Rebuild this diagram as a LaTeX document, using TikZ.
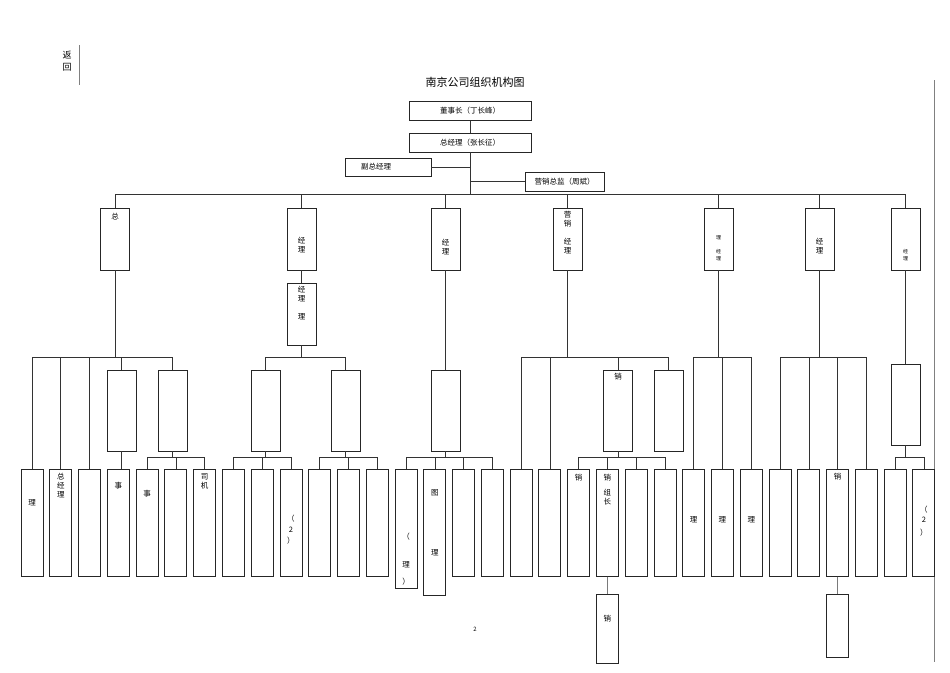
\documentclass[tikz,border=0pt]{standalone}
\usepackage{fontspec}
\setmainfont{Noto Sans CJK SC}
\usetikzlibrary{positioning}
\tikzset{
    deptbox/.style={draw=black!85, line width=0.8pt, fill=white, inner sep=0pt,
        outer sep=0pt, minimum width=29pt, minimum height=62pt},
    chiefbox/.style={deptbox, minimum width=122pt, minimum height=19pt,
        font=\fontsize{7.5}{9}\selectfont},
    groupbox/.style={deptbox, minimum height=81pt},
    leafbox/.style={deptbox, minimum width=22pt, minimum height=107pt},
    txt/.style={inner sep=0pt, align=center, font=\fontsize{7.5}{9}\selectfont},
    smalltxt/.style={txt, font=\fontsize{5}{7}\selectfont},
    link/.style={draw=black!80, line width=0.6pt}
}

\begin{document}
\begin{tikzpicture}[x=1pt, y=-1pt]
    \useasboundingbox (0,0) rectangle (950,672);
    % page frame
    \node[txt, font=\fontsize{9}{12}\selectfont] (back) at (67,61) {返\\回};
    \draw[black!50, line width=0.5pt] (79,45) -- (79,85);
    \draw[black!50, line width=0.5pt] (934,80) -- (934,662);
    \node[txt, font=\fontsize{11}{13}\selectfont] (title) at (475,82) {南京公司组织机构图};
    \node[txt, font=\fontsize{6}{7}\selectfont] (page) at (475,629) {2};

    % head office
    \node[chiefbox] (ceo) at (470,111) {董事长（丁长峰）};
    \node[chiefbox] (gm) at (470,142.5) {总经理（张长征）};
    \node[chiefbox, minimum width=86pt, minimum height=18pt] (vgm) at (388,167) {};
    \node[txt, right=16pt of vgm.west] (vgmtext) {副总经理};
    \node[chiefbox, minimum width=79pt, minimum height=19pt] (mkt) at (564.5,181.5) {营销总监（周斌）};
    \draw[link] (ceo) -- (gm);
    \draw[link] (vgm.east) -- (vgm.east -| gm.south);
    \draw[link] (mkt.west) -- (mkt.west -| gm.south);

    % departments
    \foreach \k/\x in {1/115, 2/301.5, 3/445.5, 4/567.5, 5/718.5, 6/819.5, 7/905.5}
        \node[deptbox] (L\k) at (\x,239) {};
    \node[deptbox] (L2b) at (301.5,314) {};
    \foreach \k in {1,...,7}
        \draw[link] (gm.south) -- ++(0,42) -| (L\k.north);
    \draw[link] (L2) -- (L2b);

    \node[txt, below=5pt of L1.north] {总};
    \node[txt, below=29pt of L2.north] {经\\理};
    \node[txt, below=3pt of L2b.north] {经\\理\\[9pt]理};
    \node[txt, below=31pt of L3.north] {经\\理};
    \node[txt, below=3pt of L4.north] {营\\销\\[9pt]经\\理};
    \node[smalltxt, below=27pt of L5.north] {理\\[7pt]经\\理};
    \node[txt, below=30pt of L6.north] {经\\理};
    \node[smalltxt, below=41pt of L7.north] {经\\理};

    % groups
    \foreach \g/\x in {m1a/121.5, m1b/172.5, m2a/265.5, m2b/345.5, m3/445.5, m4a/618, m4b/668.5}
        \node[groupbox] (\g) at (\x,410.5) {};
    \node[groupbox] (m7) at (905.5,404.5) {};
    \node[txt, below=3pt of m4a.north] {销};

    % posts
    \foreach \i in {1,...,13,16,17,...,32}
        \node[leafbox] (b\i) at ({32+28.77*(\i-1)},522.5) {};
    \node[leafbox, minimum height=119pt] (b14) at (406,528.5) {};
    \node[leafbox, minimum height=126pt] (b15) at (434.8,532) {};
    \node[leafbox, minimum height=69pt] (e1) at (607.4,628.5) {};
    \node[leafbox, minimum height=63pt] (e2) at (837.7,625.5) {};

    \node[txt, below=30pt of b1.north] {理};
    \node[txt, below=4pt of b2.north] {总\\经\\理};
    \node[txt, below=13pt of b4.north] {事};
    \node[txt, below=21pt of b5.north] {事};
    \node[txt, below=4pt of b7.north] {司\\机};
    \node[txt, below=46pt of b10.north] {（\\[2pt]2\\[2pt]）};
    \node[txt, below=64pt of b14.north] {（\\[19pt]理\\[8pt]）};
    \node[txt, below=20pt of b15.north] {图\\[51pt]理};
    \node[txt, below=5pt of b20.north] {销};
    \node[txt, below=5pt of b21.north] {销\\[6pt]组\\长};
    \foreach \i in {24,25,26}
        \node[txt, below=47pt of b\i.north] {理};
    \node[txt, below=4pt of b29.north] {销};
    \node[txt, below=37pt of b32.north] {（\\[1pt]2\\[4pt]）};
    \node[txt, below=21pt of e1.north] {销};

    % connectors
    \foreach \c in {b1,b2,b3,m1a,m1b}
        \draw[link] (L1.south) -- ++(0,87) -| (\c.north);
    \draw[link] (m1a.south) -- (m1a.south |- b4.north);
    \foreach \c in {b5,b6,b7}
        \draw[link] (m1b.south) -- ++(0,6) -| (\c.north);
    \foreach \c in {m2a,m2b}
        \draw[link] (L2b.south) -- ++(0,12) -| (\c.north);
    \foreach \c in {b8,b9,b10}
        \draw[link] (m2a.south) -- ++(0,6) -| (\c.north);
    \foreach \c in {b11,b12,b13}
        \draw[link] (m2b.south) -- ++(0,6) -| (\c.north);
    \draw[link] (L3) -- (m3);
    \foreach \c in {b14,b15,b16,b17}
        \draw[link] (m3.south) -- ++(0,6) -| (\c.north);
    \foreach \c in {b18,b19,m4a,m4b}
        \draw[link] (L4.south) -- ++(0,87) -| (\c.north);
    \foreach \c in {b20,b21,b22,b23}
        \draw[link] (m4a.south) -- ++(0,6) -| (\c.north);
    \draw[link] (b21) -- (e1);
    \foreach \c in {b24,b25,b26}
        \draw[link] (L5.south) -- ++(0,87) -| (\c.north);
    \foreach \c in {b27,b28,b29,b30}
        \draw[link] (L6.south) -- ++(0,87) -| (\c.north);
    \draw[link] (b29) -- (e2);
    \draw[link] (L7) -- (m7);
    \foreach \c in {b31,b32}
        \draw[link] (m7.south) -- ++(0,12) -| (\c.north);
\end{tikzpicture}
\end{document}
